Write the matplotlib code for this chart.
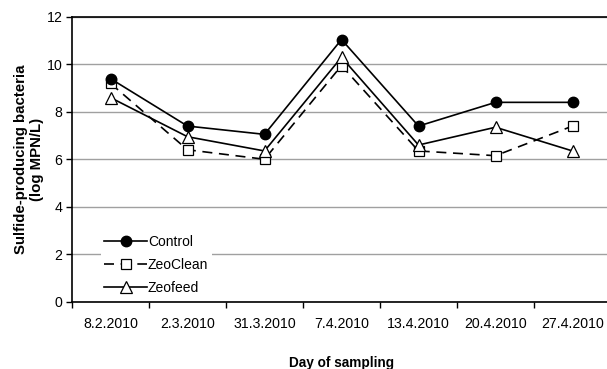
import matplotlib
matplotlib.use("Agg")
import matplotlib.pyplot as plt
from matplotlib.ticker import FixedLocator, NullFormatter

dates = ["8.2.2010", "2.3.2010", "31.3.2010", "7.4.2010", "13.4.2010", "20.4.2010", "27.4.2010"]
control = [9.4, 7.4, 7.05, 11.05, 7.4, 8.4, 8.4]
zeoclean = [9.2, 6.4, 6.0, 9.95, 6.35, 6.15, 7.4]
zeofeed = [8.6, 6.95, 6.35, 10.3, 6.6, 7.35, 6.35]

plt.rcParams['font.family'] = ['Liberation Sans', 'DejaVu Sans']

fig = plt.figure(figsize=(6.07, 3.69), dpi=100)
ax = fig.add_axes([72/607, (369-301.5)/369, (611-72)/607, (301.5-17)/369])

x = list(range(len(dates)))
ax.plot(x, control, color='black', lw=1.2, marker='o', ms=7.5, mfc='black', mec='black', label='Control', zorder=4)
ax.plot(x, zeoclean, color='black', lw=1.2, ls=(0, (6, 4)), marker='s', ms=6.5, mfc='white', mec='black', mew=0.9, label='ZeoClean', zorder=3)
ax.plot(x, zeofeed, color='black', lw=1.2, marker='^', ms=9, mfc='white', mec='black', mew=0.9, label='Zeofeed', zorder=3)

ax.set_xlim(-0.5, len(dates) - 0.5)
ax.set_ylim(0, 12)
ax.set_yticks([0, 2, 4, 6, 8, 10, 12])
ax.yaxis.grid(True, color='#a0a0a0', lw=1)
ax.set_axisbelow(True)

ax.set_xticks(x)
ax.set_xticklabels(dates, fontsize=10.2)
ax.tick_params(axis='x', which='major', length=0, pad=11)
ax.xaxis.set_minor_locator(FixedLocator([i - 0.5 for i in range(len(dates) + 1)]))
ax.xaxis.set_minor_formatter(NullFormatter())
ax.tick_params(axis='x', which='minor', length=4, width=1, direction='out')
ax.tick_params(axis='y', length=4, width=1, direction='out', labelsize=10.2, pad=3)

for s in ['left', 'bottom', 'top']:
    ax.spines[s].set_color('black')
    ax.spines[s].set_linewidth(1.2)
ax.spines['right'].set_visible(False)

ax.set_ylabel("Sulfide-producing bacteria\n(log MPN/L)", fontsize=10.8, fontweight='bold', labelpad=2, linespacing=1.15)
ax.set_xlabel("Day of sampling", fontsize=9.8, fontweight='bold', labelpad=18)

leg = ax.legend(loc='lower left', bbox_to_anchor=(0.053, 0.012), frameon=True, fontsize=10,
                handlelength=3.1, handletextpad=0.05, labelspacing=0.65, borderpad=0.25,
                borderaxespad=0)
leg.get_frame().set_edgecolor('none')
leg.get_frame().set_facecolor('white')
leg.get_frame().set_alpha(1)

fig.savefig("out.png", dpi=100)
